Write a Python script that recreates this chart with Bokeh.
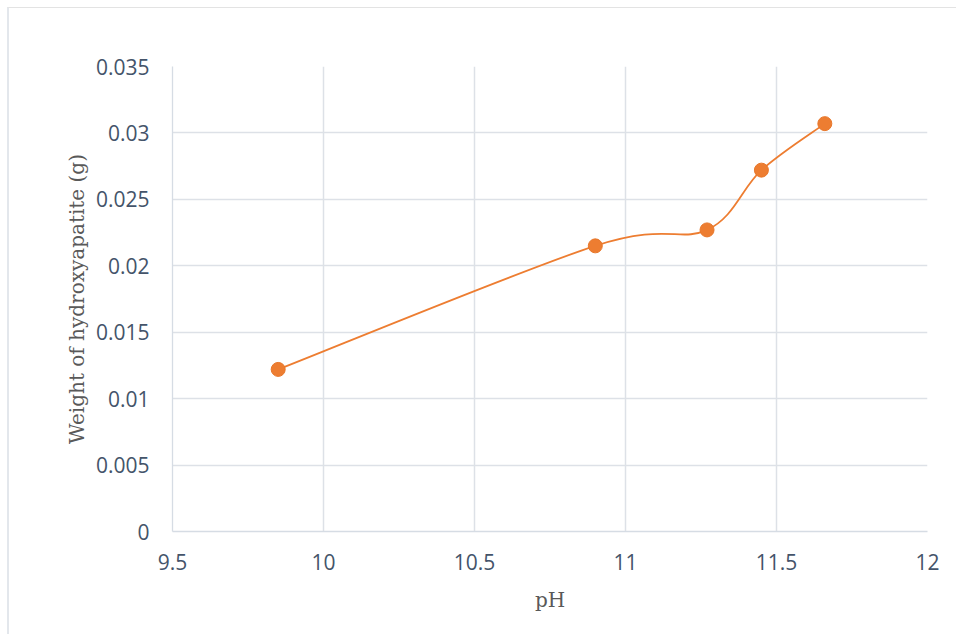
from bokeh.plotting import figure
from bokeh.embed import file_html
from bokeh.resources import INLINE
from bokeh.models import FixedTicker, ColumnDataSource

ph = [9.85, 10.9, 11.27, 11.45, 11.66]
weight = [0.0122, 0.0215, 0.0227, 0.0272, 0.0307]
x_ticks = [9.5, 10, 10.5, 11, 11.5, 12]
y_ticks = [0, 0.005, 0.01, 0.015, 0.02, 0.025, 0.03, 0.035]
x_labels = ["9.5", "10", "10.5", "11", "11.5", "12"]
y_labels = ["0", "0.005", "0.01", "0.015", "0.02", "0.025", "0.03", "0.035"]

ORANGE = "#ED7D31"
GRID = "#DDE1E7"
TICK = "#44546A"

p = figure(width=949, height=627, x_range=(9.5, 12), y_range=(0, 0.035),
           output_backend="svg", toolbar_location=None,
           min_border_left=163, min_border_right=31, min_border_top=58, min_border_bottom=104)
p.margin = (7, 0, 0, 7)
p.styles = {"border-left": "2px solid #E3E7EC", "border-top": "1px solid #E3E3E3"}
p.outline_line_color = None
p.background_fill_color = "white"

# smooth curve (Catmull-Rom style Bezier segments like Excel smoothing)
n = len(ph)
seg = dict(x0=[], y0=[], x1=[], y1=[], cx0=[], cy0=[], cx1=[], cy1=[])
for i in range(n - 1):
    pm = (ph[max(i - 1, 0)], weight[max(i - 1, 0)])
    p0 = (ph[i], weight[i])
    p1 = (ph[i + 1], weight[i + 1])
    p2 = (ph[min(i + 2, n - 1)], weight[min(i + 2, n - 1)])
    seg["x0"].append(p0[0]); seg["y0"].append(p0[1])
    seg["x1"].append(p1[0]); seg["y1"].append(p1[1])
    seg["cx0"].append(p0[0] + (p1[0] - pm[0]) / 6)
    seg["cy0"].append(p0[1] + (p1[1] - pm[1]) / 6)
    seg["cx1"].append(p1[0] - (p2[0] - p0[0]) / 6)
    seg["cy1"].append(p1[1] - (p2[1] - p0[1]) / 6)
p.bezier(x0="x0", y0="y0", x1="x1", y1="y1", cx0="cx0", cy0="cy0", cx1="cx1", cy1="cy1",
         source=ColumnDataSource(seg), line_color=ORANGE, line_width=1.8)
p.scatter(ph, weight, size=14, fill_color=ORANGE, line_color="#E8772A", line_width=1)

for ax in (p.xaxis[0], p.yaxis[0]):
    ax.axis_line_color = "#D6DCE4"
    ax.axis_line_width = 1.3
    ax.major_tick_line_color = None
    ax.minor_tick_line_color = None
    ax.major_label_text_color = TICK
    ax.major_label_text_font = "Open Sans"
    ax.major_label_text_font_size = "21px"
    ax.axis_label_text_font = "DejaVu Serif"
    ax.axis_label_text_font_size = "20px"
    ax.axis_label_text_font_style = "normal"
    ax.axis_label_text_color = "#595959"

p.xaxis.ticker = FixedTicker(ticks=x_ticks)
p.yaxis.ticker = FixedTicker(ticks=y_ticks)
p.xaxis.major_label_overrides = dict(zip(x_ticks, x_labels))
p.yaxis.major_label_overrides = dict(zip(y_ticks, y_labels))
p.xaxis.axis_label = "pH"
p.yaxis.axis_label = "Weight of hydroxyapatite (g)"
p.xaxis.major_label_standoff = 16
p.yaxis.major_label_standoff = 17
p.xaxis.axis_label_standoff = 15
p.yaxis.axis_label_standoff = 4

p.xgrid.grid_line_color = GRID
p.ygrid.grid_line_color = GRID
p.xgrid.grid_line_width = 1.5
p.ygrid.grid_line_width = 1.5
p.xgrid.ticker = FixedTicker(ticks=x_ticks)
p.ygrid.ticker = FixedTicker(ticks=y_ticks)

open("out.html", "w").write(file_html(p, INLINE))
